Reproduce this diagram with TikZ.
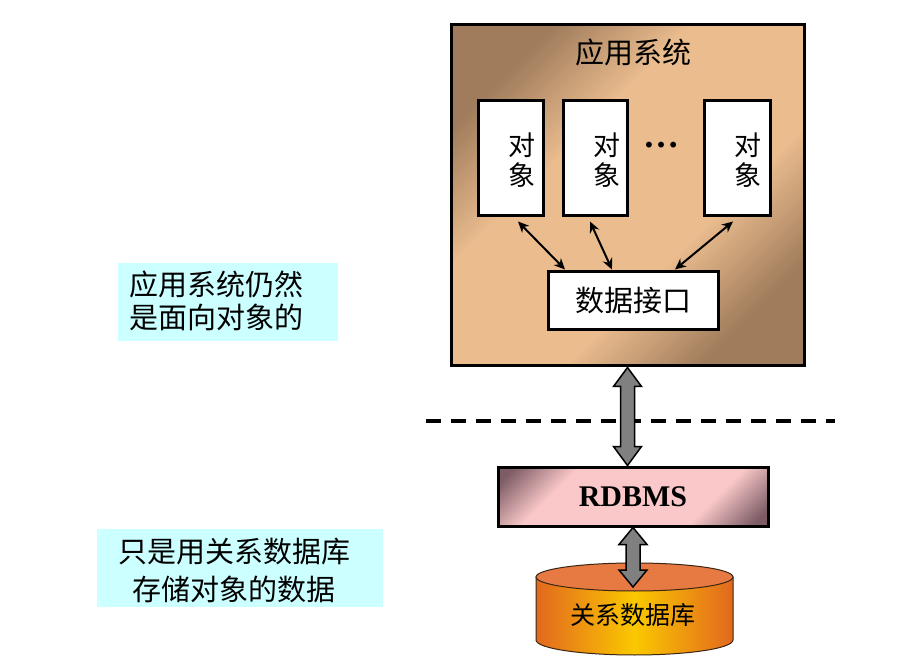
\documentclass[tikz,border=0pt]{standalone}
\usepackage{fontspec}
\setmainfont{Liberation Serif}
\newfontfamily\cjk{Noto Sans CJK SC}
\usetikzlibrary{arrows.meta,calc}
\definecolor{brdark}{RGB}{160,124,92}
\definecolor{brlight}{RGB}{234,188,142}
\definecolor{pkdark}{RGB}{125,92,102}
\definecolor{pklight}{RGB}{250,200,200}
\definecolor{labcyan}{RGB}{204,255,255}
\definecolor{cylor}{RGB}{226,104,30}
\definecolor{cylyel}{RGB}{250,200,0}
\definecolor{cyltop}{RGB}{230,122,66}
\definecolor{fatgray}{RGB}{128,128,128}
\pgfdeclareverticalshading{appsh}{100bp}{color(0bp)=(brdark); color(25bp)=(brdark); color(39bp)=(brlight); color(61bp)=(brlight); color(75bp)=(brdark); color(100bp)=(brdark)}
\pgfdeclareverticalshading{rdbsh}{100bp}{color(0bp)=(pkdark); color(18bp)=(pkdark); color(32bp)=(pklight); color(68bp)=(pklight); color(82bp)=(pkdark); color(100bp)=(pkdark)}
\tikzset{
  objbox/.style={draw=black,line width=3pt,fill=white,minimum width=#1,minimum height=115pt,inner sep=0pt},
  dblarr/.style={black,line width=2pt,{Stealth[length=11pt,width=10pt]}-{Stealth[length=11pt,width=10pt]}},
  fatarr/.style={draw=black,line width=1.5pt,fill=fatgray,line join=miter},
  cjklab/.style={font=\cjk\fontsize{29}{33}\selectfont},
  labbox/.style={fill=labcyan,inner sep=0pt}
}
\begin{document}
\begin{tikzpicture}[x=1pt,y=-1pt]
\useasboundingbox (0,0) rectangle (898,663);
% application system box
\node[draw=black,line width=3pt,minimum width=353pt,minimum height=341pt,inner sep=0pt,
  shade,shading=appsh,shading angle=45] (app) at (627.5,195.5) {};
\node[cjklab] (title) at (633,52) {应用系统};
% object boxes
\node[objbox=65pt] (o1) at (510.5,158.5) {};
\node[objbox=64pt] (o2) at (595,158.5) {};
\node[objbox=66pt] (o3) at (737,158.5) {};
\node[font=\cjk\fontsize{27}{30}\selectfont,align=center] (t1) at (522,160) {对\\象};
\node[font=\cjk\fontsize{27}{30}\selectfont,align=center] (t2) at (607,160) {对\\象};
\node[font=\cjk\fontsize{27}{30}\selectfont,align=center] (t3) at (748,160) {对\\象};
\node[font=\bfseries\fontsize{36}{36}\selectfont,anchor=base,inner sep=0pt] (dots) at (661,148) {…};
% data interface
\node[draw=black,line width=3pt,fill=white,minimum width=170pt,minimum height=58pt,inner sep=0pt,
  font=\cjk\fontsize{29}{33}\selectfont] (api) at (633,301) {数据接口};
\draw[dblarr] ([xshift=7.5pt,yshift=-4pt]o1.south) -- ([xshift=-68pt,yshift=1pt]api.north);
\draw[dblarr] ([xshift=-5pt,yshift=-4pt]o2.south) -- ([xshift=-21pt,yshift=1pt]api.north);
\draw[dblarr] ([xshift=-4pt,yshift=-4pt]o3.south) -- ([xshift=42pt,yshift=1pt]api.north);
% dashed separator
\coordinate (dl) at (426,421);
\coordinate (dr) at (835,421);
\draw[line width=4pt,dash pattern=on 15pt off 10pt] (dl) -- (dr);
% RDBMS
\node[draw=black,line width=3pt,minimum width=270pt,minimum height=59pt,inner sep=0pt,
  shade,shading=rdbsh,shading angle=45,
  font=\bfseries\fontsize{30}{34}\selectfont] (rdb) at (633,496.5) {RDBMS};
% cylinder
\coordinate (cyltopc) at (634.5,577);
\shade[left color=cylor,right color=cylor,middle color=cylyel,draw=black!70!brown,line width=1pt]
  (536,577) -- (536,640) arc[start angle=180,end angle=360,x radius=98.5pt,y radius=15pt] -- (733,577) -- cycle;
\draw[fill=cyltop,draw=black!70!brown,line width=1pt] (cyltopc) ellipse[x radius=98.5pt,y radius=14pt];
\node[font=\cjk\fontsize{25}{28}\selectfont] (dbtext) at (633,615) {关系数据库};
% fat arrows
\coordinate (a1) at (app.south);
\coordinate (a2) at (rdb.north);
\draw[fatarr] let \p1=(a1), \p2=(a2) in
  (\x1,\y1) -- (\x1+14pt,\y1-19pt) -- (\x1+7pt,\y1-19pt) -- (\x1+7pt,\y2+19pt) -- (\x1+14pt,\y2+19pt)
  -- (\x1,\y2) -- (\x1-14pt,\y2+19pt) -- (\x1-7pt,\y2+19pt) -- (\x1-7pt,\y1-19pt) -- (\x1-14pt,\y1-19pt) -- cycle;
\coordinate (b1) at (rdb.south);
\coordinate (b2) at ($(cyltopc)+(0,10)$);
\draw[fatarr] let \p1=(b1), \p2=(b2) in
  (\x1,\y1) -- (\x1+14pt,\y1-17pt) -- (\x1+7pt,\y1-17pt) -- (\x1+7pt,\y2+17pt) -- (\x1+14pt,\y2+17pt)
  -- (\x1,\y2) -- (\x1-14pt,\y2+17pt) -- (\x1-7pt,\y2+17pt) -- (\x1-7pt,\y1-17pt) -- (\x1-14pt,\y1-17pt) -- cycle;
% side labels
\node[labbox,minimum width=220pt,minimum height=78pt] (lab1) at (228,302) {};
\node[cjklab,align=left,anchor=west] (lab1t) at (126,301) {应用系统仍然\\是面向对象的};
\node[labbox,minimum width=286pt,minimum height=78pt] (lab2) at (240,568) {};
\node[font=\cjk\fontsize{29}{38}\selectfont,align=center] (lab2t) at (234,571) {只是用关系数据库\\存储对象的数据};
\end{tikzpicture}
\end{document}
